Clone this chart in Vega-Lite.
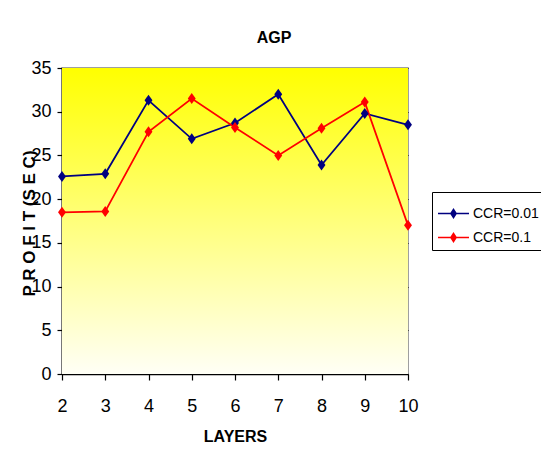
{
  "$schema": "https://vega.github.io/schema/vega-lite/v6.json",
  "autosize": {"type": "none"},
  "padding": {"left": 62, "top": 68, "right": 133, "bottom": 79},
  "width": 346,
  "height": 306,
  "background": "white",
  "title": {
    "text": "AGP",
    "font": "Liberation Sans",
    "fontSize": 16,
    "fontWeight": "bold",
    "color": "black",
    "baseline": "alphabetic",
    "offset": 0,
    "dx": 39
  },
  "config": {
    "view": {"stroke": "#808080", "strokeWidth": 1.5},
    "axis": {
      "labelFont": "Liberation Sans",
      "labelFontSize": 18,
      "labelColor": "black",
      "titleFont": "Liberation Sans",
      "titleFontSize": 16,
      "titleFontWeight": "bold",
      "titleColor": "black",
      "domainColor": "black",
      "domainWidth": 1.5,
      "tickColor": "black",
      "tickWidth": 1.2,
      "zindex": 1
    },
    "legend": {
      "labelFont": "Liberation Sans",
      "labelFontSize": 14,
      "labelColor": "black",
      "title": null,
      "orient": "none",
      "legendX": 370,
      "legendY": 124,
      "strokeColor": "black",
      "fillColor": "white",
      "cornerRadius": 0,
      "padding": 5,
      "rowPadding": 0,
      "symbolType": "M-1,0L1,0M0,-0.26L0.17,0L0,0.26L-0.17,0Z",
      "symbolSize": 961,
      "symbolStrokeWidth": 1.5,
      "symbolOpacity": 1,
      "labelOffset": 3
    }
  },
  "data": {
    "values": [
      {"layers": 2, "profit": 22.6, "series": "CCR=0.01"},
      {"layers": 3, "profit": 22.9, "series": "CCR=0.01"},
      {"layers": 4, "profit": 31.3, "series": "CCR=0.01"},
      {"layers": 5, "profit": 26.9, "series": "CCR=0.01"},
      {"layers": 6, "profit": 28.7, "series": "CCR=0.01"},
      {"layers": 7, "profit": 32.0, "series": "CCR=0.01"},
      {"layers": 8, "profit": 23.9, "series": "CCR=0.01"},
      {"layers": 9, "profit": 29.8, "series": "CCR=0.01"},
      {"layers": 10, "profit": 28.5, "series": "CCR=0.01"},
      {"layers": 2, "profit": 18.5, "series": "CCR=0.1"},
      {"layers": 3, "profit": 18.6, "series": "CCR=0.1"},
      {"layers": 4, "profit": 27.7, "series": "CCR=0.1"},
      {"layers": 5, "profit": 31.5, "series": "CCR=0.1"},
      {"layers": 6, "profit": 28.2, "series": "CCR=0.1"},
      {"layers": 7, "profit": 25.0, "series": "CCR=0.1"},
      {"layers": 8, "profit": 28.1, "series": "CCR=0.1"},
      {"layers": 9, "profit": 31.1, "series": "CCR=0.1"},
      {"layers": 10, "profit": 17.0, "series": "CCR=0.1"}
    ]
  },
  "layer": [
    {
      "mark": {
        "type": "rect",
        "color": {
          "gradient": "linear",
          "x1": 0, "y1": 0, "x2": 0, "y2": 1,
          "stops": [
            {"offset": 0, "color": "#FFFF00"},
            {"offset": 1, "color": "#FFFFF6"}
          ]
        }
      },
      "encoding": {
        "x": {"datum": 2, "type": "quantitative"},
        "x2": {"datum": 10},
        "y": {"datum": 35, "type": "quantitative"},
        "y2": {"datum": 0}
      }
    },
    {
      "mark": {"type": "line", "strokeWidth": 1.75},
      "encoding": {
        "x": {"field": "layers", "type": "quantitative"},
        "y": {"field": "profit", "type": "quantitative"},
        "stroke": {
          "field": "series",
          "type": "nominal",
          "scale": {"domain": ["CCR=0.01", "CCR=0.1"], "range": ["#000080", "#FF0000"]}
        }
      }
    },
    {
      "mark": {
        "type": "point",
        "filled": true,
        "opacity": 1,
        "shape": "M0,-1L0.72,0L0,1L-0.72,0Z",
        "size": 121
      },
      "encoding": {
        "x": {"field": "layers", "type": "quantitative"},
        "y": {"field": "profit", "type": "quantitative"},
        "fill": {
          "field": "series",
          "type": "nominal",
          "scale": {"domain": ["CCR=0.01", "CCR=0.1"], "range": ["#000080", "#FF0000"]}
        }
      }
    }
  ],
  "encoding": {
    "x": {
      "type": "quantitative",
      "scale": {"domain": [2, 10], "nice": false, "zero": false},
      "axis": {
        "title": "LAYERS",
        "values": [2, 3, 4, 5, 6, 7, 8, 9, 10],
        "format": "d",
        "grid": false,
        "tickSize": 6,
        "labelPadding": 17,
        "labelFlush": false,
        "titleY": 67,
        "titleBaseline": "alphabetic"
      }
    },
    "y": {
      "type": "quantitative",
      "scale": {"domain": [0, 35], "nice": false},
      "axis": {
        "title": "P R O F I T (S E C)",
        "titleFontSize": 17,
        "values": [0, 5, 10, 15, 20, 25, 30, 35],
        "grid": true,
        "gridColor": "black",
        "gridWidth": 1.2,
        "gridOpacity": 1,
        "tickSize": 5,
        "labelPadding": 6,
        "titleX": -33,
        "titleY": 155,
        "titleAngle": -90,
        "titleAlign": "center",
        "titleBaseline": "middle"
      }
    }
  }
}
